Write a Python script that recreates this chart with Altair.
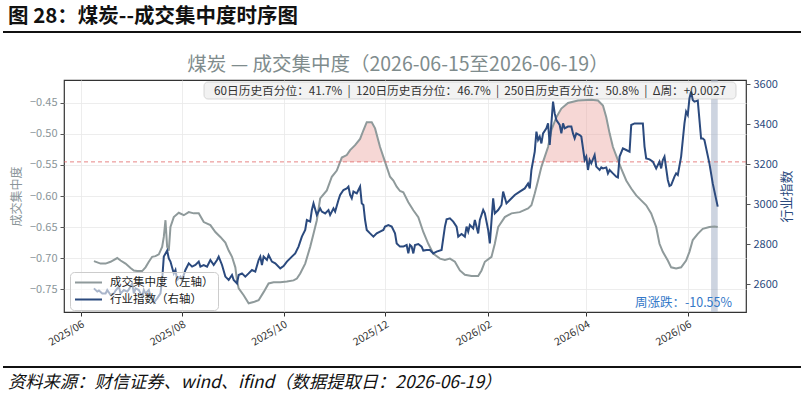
import altair as alt
import pandas as pd

# ---------------- data ----------------
conc_dates = [
    "2025-06-09", "2025-06-13", "2025-06-16", "2025-06-19", "2025-06-23", "2025-06-25", "2025-06-28",
    "2025-07-01", "2025-07-03", "2025-07-05", "2025-07-08", "2025-07-10", "2025-07-12", "2025-07-14",
    "2025-07-16", "2025-07-18", "2025-07-20", "2025-07-21", "2025-07-22", "2025-07-23", "2025-07-24",
    "2025-07-25", "2025-07-27", "2025-07-30", "2025-08-02", "2025-08-05", "2025-08-08", "2025-08-11",
    "2025-08-14", "2025-08-18", "2025-08-21", "2025-08-24", "2025-08-27", "2025-08-29", "2025-08-31",
    "2025-09-02", "2025-09-03", "2025-09-04", "2025-09-07", "2025-09-10", "2025-09-13", "2025-09-16",
    "2025-09-19", "2025-09-22", "2025-09-25", "2025-09-29", "2025-10-03", "2025-10-07", "2025-10-09",
    "2025-10-11", "2025-10-14", "2025-10-17", "2025-10-19", "2025-10-21", "2025-10-23", "2025-10-27",
    "2025-10-30", "2025-11-02", "2025-11-04", "2025-11-05", "2025-11-08", "2025-11-10", "2025-11-13",
    "2025-11-16", "2025-11-18", "2025-11-20", "2025-11-23", "2025-11-25", "2025-11-28", "2025-11-30",
    "2025-12-02", "2025-12-04", "2025-12-06", "2025-12-08", "2025-12-10", "2025-12-12", "2025-12-15",
    "2025-12-18", "2025-12-21", "2025-12-24", "2025-12-27", "2025-12-30", "2026-01-03", "2026-01-06",
    "2026-01-09", "2026-01-12", "2026-01-15", "2026-01-18", "2026-01-22", "2026-01-26", "2026-01-28",
    "2026-01-30", "2026-02-03", "2026-02-05", "2026-02-07", "2026-02-11", "2026-02-15", "2026-02-20",
    "2026-02-25", "2026-02-27", "2026-03-01", "2026-03-03", "2026-03-05", "2026-03-07", "2026-03-09",
    "2026-03-11", "2026-03-14", "2026-03-17", "2026-03-21", "2026-03-27", "2026-04-04", "2026-04-08",
    "2026-04-11", "2026-04-13", "2026-04-15", "2026-04-17", "2026-04-20", "2026-04-22", "2026-04-25",
    "2026-04-28", "2026-05-01", "2026-05-04", "2026-05-07", "2026-05-10", "2026-05-13", "2026-05-15",
    "2026-05-17", "2026-05-20", "2026-05-22", "2026-05-25", "2026-05-28", "2026-05-31", "2026-06-02",
    "2026-06-04", "2026-06-07", "2026-06-10", "2026-06-14", "2026-06-17", "2026-06-19",
]
conc_vals = [
    -0.705, -0.709, -0.709, -0.706, -0.700, -0.704, -0.709,
    -0.716, -0.720, -0.721, -0.721, -0.715, -0.706, -0.698,
    -0.697, -0.694, -0.682, -0.666, -0.639, -0.682, -0.688,
    -0.650, -0.634, -0.627, -0.631, -0.626, -0.628, -0.628,
    -0.642, -0.647, -0.658, -0.666, -0.675, -0.688, -0.698,
    -0.715, -0.736, -0.749, -0.760, -0.773, -0.771, -0.768,
    -0.755, -0.741, -0.739, -0.739, -0.738, -0.736, -0.733,
    -0.725, -0.709, -0.682, -0.661, -0.639, -0.604, -0.591,
    -0.569, -0.559, -0.545, -0.538, -0.534, -0.526, -0.518,
    -0.508, -0.494, -0.481, -0.481, -0.491, -0.521, -0.537,
    -0.553, -0.569, -0.575, -0.585, -0.592, -0.594, -0.610,
    -0.623, -0.634, -0.658, -0.677, -0.693, -0.701, -0.703,
    -0.701, -0.706, -0.720, -0.727, -0.729, -0.729, -0.720,
    -0.706, -0.698, -0.677, -0.650, -0.634, -0.628, -0.626,
    -0.620, -0.615, -0.596, -0.575, -0.553, -0.537, -0.521,
    -0.494, -0.473, -0.459, -0.450, -0.446, -0.445, -0.446,
    -0.454, -0.473, -0.499, -0.521, -0.542, -0.556, -0.575,
    -0.588, -0.599, -0.607, -0.615, -0.628, -0.650, -0.677,
    -0.690, -0.704, -0.715, -0.717, -0.715, -0.704, -0.690,
    -0.671, -0.661, -0.653, -0.650, -0.649, -0.650,
]

idx_dates = [
    "2025-06-09", "2025-06-11", "2025-06-12", "2025-06-14", "2025-06-16", "2025-06-17", "2025-06-19",
    "2025-06-21", "2025-06-22", "2025-06-24", "2025-06-25", "2025-06-27", "2025-06-29", "2025-06-30",
    "2025-07-02", "2025-07-03", "2025-07-04", "2025-07-06", "2025-07-08", "2025-07-09", "2025-07-10",
    "2025-07-12", "2025-07-13", "2025-07-15", "2025-07-17", "2025-07-19", "2025-07-20", "2025-07-21",
    "2025-07-23", "2025-07-24", "2025-07-25", "2025-07-27", "2025-07-28", "2025-07-29", "2025-07-31",
    "2025-08-01", "2025-08-03", "2025-08-05", "2025-08-07", "2025-08-09", "2025-08-11", "2025-08-12",
    "2025-08-14", "2025-08-16", "2025-08-18", "2025-08-20", "2025-08-22", "2025-08-23", "2025-08-25",
    "2025-08-27", "2025-08-29", "2025-08-31", "2025-09-01", "2025-09-03", "2025-09-04", "2025-09-06",
    "2025-09-08", "2025-09-10", "2025-09-12", "2025-09-14", "2025-09-16", "2025-09-17", "2025-09-18",
    "2025-09-19", "2025-09-21", "2025-09-22", "2025-09-24", "2025-09-26", "2025-09-29", "2025-10-01",
    "2025-10-03", "2025-10-06", "2025-10-08", "2025-10-10", "2025-10-12", "2025-10-14", "2025-10-15",
    "2025-10-17", "2025-10-18", "2025-10-19", "2025-10-21", "2025-10-23", "2025-10-24", "2025-10-26",
    "2025-10-28", "2025-10-29", "2025-10-31", "2025-11-01", "2025-11-03", "2025-11-04", "2025-11-06",
    "2025-11-08", "2025-11-09", "2025-11-10", "2025-11-11", "2025-11-12", "2025-11-14", "2025-11-15",
    "2025-11-16", "2025-11-17", "2025-11-18", "2025-11-19", "2025-11-20", "2025-11-22", "2025-11-24",
    "2025-11-26", "2025-11-28", "2025-11-30", "2025-12-01", "2025-12-03", "2025-12-05", "2025-12-07",
    "2025-12-08", "2025-12-10", "2025-12-12", "2025-12-14", "2025-12-15", "2025-12-16", "2025-12-17",
    "2025-12-18", "2025-12-19", "2025-12-21", "2025-12-23", "2025-12-24", "2025-12-26", "2025-12-28",
    "2025-12-30", "2026-01-01", "2026-01-04", "2026-01-06", "2026-01-07", "2026-01-09", "2026-01-11",
    "2026-01-13", "2026-01-14", "2026-01-16", "2026-01-18", "2026-01-19", "2026-01-20", "2026-01-21",
    "2026-01-23", "2026-01-24", "2026-01-26", "2026-01-27", "2026-01-29", "2026-01-30", "2026-02-01",
    "2026-02-02", "2026-02-04", "2026-02-05", "2026-02-07", "2026-02-09", "2026-02-10", "2026-02-12",
    "2026-02-14", "2026-02-17", "2026-02-20", "2026-02-23", "2026-02-25", "2026-02-26", "2026-02-27",
    "2026-03-01", "2026-03-02", "2026-03-03", "2026-03-04", "2026-03-05", "2026-03-06", "2026-03-08",
    "2026-03-09", "2026-03-10", "2026-03-11", "2026-03-12", "2026-03-13", "2026-03-14", "2026-03-16",
    "2026-03-17", "2026-03-18", "2026-03-19", "2026-03-21", "2026-03-23", "2026-03-24", "2026-03-25",
    "2026-03-26", "2026-03-28", "2026-03-29", "2026-03-31", "2026-04-01", "2026-04-02", "2026-04-03",
    "2026-04-04", "2026-04-06", "2026-04-07", "2026-04-09", "2026-04-10", "2026-04-11", "2026-04-13",
    "2026-04-14", "2026-04-15", "2026-04-17", "2026-04-19", "2026-04-20", "2026-04-21", "2026-04-23",
    "2026-04-25", "2026-04-27", "2026-04-28", "2026-04-30", "2026-05-03", "2026-05-05", "2026-05-06",
    "2026-05-07", "2026-05-09", "2026-05-11", "2026-05-13", "2026-05-15", "2026-05-16", "2026-05-17",
    "2026-05-18", "2026-05-20", "2026-05-21", "2026-05-22", "2026-05-24", "2026-05-25", "2026-05-26",
    "2026-05-28", "2026-05-30", "2026-05-31", "2026-06-01", "2026-06-02", "2026-06-03", "2026-06-04",
    "2026-06-05", "2026-06-07", "2026-06-09", "2026-06-10", "2026-06-11", "2026-06-14", "2026-06-16",
    "2026-06-19",
]
idx_vals = [
    2578, 2562, 2567, 2553, 2553, 2570, 2545,
    2553, 2567, 2587, 2553, 2570, 2562, 2573,
    2603, 2553, 2578, 2570, 2537, 2570, 2553,
    2570, 2537, 2507, 2528, 2553, 2620, 2737,
    2767, 2728, 2712, 2653, 2670, 2620, 2637,
    2620, 2670, 2703, 2687, 2695, 2712, 2687,
    2695, 2687, 2720, 2695, 2720, 2737, 2695,
    2637, 2620, 2645, 2620, 2603, 2645, 2653,
    2637, 2653, 2670, 2662, 2720, 2737, 2695,
    2737, 2720, 2745, 2712, 2703, 2678, 2690,
    2712, 2737, 2753, 2787, 2837, 2870, 2920,
    2912, 2970, 3003, 2945, 2978, 2962, 2953,
    2970, 2945, 2978, 2962, 3020, 3045, 3070,
    3078, 3087, 3045, 3028, 3062, 3053, 3070,
    3087, 3003, 2995, 2920, 2870, 2853, 2837,
    2853, 2862, 2870, 2887, 2895, 2887, 2853,
    2803, 2787, 2787, 2795, 2753, 2795, 2787,
    2753, 2795, 2800, 2787, 2767, 2770, 2770,
    2753, 2762, 2770, 2887, 2923, 2928, 2912,
    2887, 2837, 2850, 2837, 2887, 2862, 2895,
    2878, 2920, 2853, 2920, 2970, 2953, 2870,
    2803, 3028, 2953, 2970, 2995, 3062, 3003,
    3020, 3045, 3062, 3078, 3103, 3078, 3170,
    3262, 3362, 3320, 3337, 3303, 3353, 3378,
    3403, 3295, 3403, 3512, 3453, 3420, 3395,
    3353, 3403, 3378, 3387, 3387, 3353, 3328,
    3353, 3345, 3337, 3220, 3237, 3170, 3220,
    3203, 3245, 3187, 3170, 3183, 3178, 3183,
    3153, 3170, 3153, 3137, 3133, 3237, 3278,
    3270, 3262, 3395, 3403, 3403, 3403, 3287,
    3228, 3223, 3212, 3178, 3212, 3178, 3220,
    3237, 3120, 3090, 3095, 3137, 3153, 3145,
    3237, 3403, 3462, 3445, 3528, 3562, 3520,
    3512, 3517, 3328, 3328, 3320, 3203, 3103,
    2987,
]

series_names = ["成交集中度（左轴）", "行业指数（右轴）"]
threshold = -0.545
week_band = ["2026-06-15", "2026-06-19"]
x_tick_months = [(2025, 6), (2025, 8), (2025, 10), (2025, 12), (2026, 2), (2026, 4), (2026, 6)]
left_ticks = [-0.75, -0.70, -0.65, -0.60, -0.55, -0.50, -0.45]
right_ticks = [2600, 2800, 3000, 3200, 3400, 3600]

SEP = "\u00a0\u00a0|\u00a0\u00a0"
header_text = "图 28：煤炭--成交集中度时序图"
title_text = "煤炭 — 成交集中度（2026-06-15至2026-06-19）"
stats_text = ("60日历史百分位：41.7%" + SEP + "120日历史百分位：46.7%" + SEP
              + "250日历史百分位：50.8%" + SEP + "Δ周：+0.0027")
weekly_text = "周涨跌：-10.55%"
source_text = "资料来源：财信证券、wind、ifind（数据提取日：2026-06-19）"

# ---------------- styling ----------------
FONT = "Noto Sans CJK SC"
GREY_LINE = "#8f9a9b"
NAVY = "#2b4a7e"
GREY_TXT = "#8a9599"
TITLE_GREY = "#7f8c8d"
PINK = "#eaa6a1"

W, H = 682, 232

conc_df = pd.DataFrame({"date": conc_dates, "value": conc_vals})
conc_df["series"] = series_names[0]
conc_df["thr"] = threshold
idx_df = pd.DataFrame({"date": idx_dates, "value": idx_vals})
idx_df["series"] = series_names[1]

x_scale = alt.Scale(
    type="utc",
    domain=[alt.DateTime(year=2025, month=5, date=22, utc=True),
            alt.DateTime(year=2026, month=7, date=6, utc=True)],
)
x_axis = alt.Axis(
    values=[alt.DateTime(year=y, month=m, date=1, utc=True) for y, m in x_tick_months],
    format="%Y/%m", labelAngle=-30, labelAlign="right", labelBaseline="top",
    labelFontSize=10.5, labelColor="#333333", labelFont=FONT, labelPadding=3,
    grid=True, gridColor="#e9e9e9", gridWidth=0.8, domain=False,
    ticks=True, tickSize=4, tickColor="#333333", title=None,
)


def xenc(field="date"):
    return alt.X(f"{field}:T", scale=x_scale, axis=x_axis, title=None)


left_scale = alt.Scale(domain=[-0.787, -0.413], nice=False, zero=False)
left_axis = alt.Axis(
    orient="left", title="成交集中度", values=left_ticks, format=".2f",
    labelFontSize=11, labelColor=GREY_TXT, labelFont=FONT, labelPadding=3,
    titleColor=GREY_TXT, titleFont=FONT, titleFontSize=12, titleFontWeight="normal", titlePadding=6,
    grid=True, gridColor="#e9e9e9", gridWidth=0.8, domain=False,
    ticks=True, tickSize=4, tickColor="#555555",
)
right_scale = alt.Scale(domain=[2460, 3620], nice=False, zero=False)
right_axis = alt.Axis(
    orient="right", title="行业指数", values=right_ticks, format="d",
    labelFontSize=11, labelColor=NAVY, labelFont=FONT, labelPadding=3,
    titleColor=NAVY, titleFont=FONT, titleFontSize=13, titleFontWeight="normal",
    titleAngle=270, titleBaseline="top", titlePadding=3,
    grid=False, domain=False, ticks=True, tickSize=4, tickColor="#555555",
)

color = alt.Color(
    "series:N",
    scale=alt.Scale(domain=series_names, range=[GREY_LINE, NAVY]),
    legend=alt.Legend(
        title=None, orient="none", legendX=6, legendY=192,
        symbolType="stroke", symbolSize=729, symbolStrokeWidth=2,
        labelFontSize=11.5, labelFont=FONT, labelColor="#222222", labelOffset=7,
        padding=4, rowPadding=4, clipHeight=13,
        fillColor="rgba(255,255,255,0.6)", strokeColor="#cccccc", cornerRadius=4,
    ),
)

# week band
band = alt.Chart(pd.DataFrame({"start": [week_band[0]], "end": [week_band[1]]})).mark_rect(
    color="#a4b1c7", opacity=0.55
).encode(x=xenc("start"), x2="end:T")

# annotation box (stats)
one = pd.DataFrame({"t": [stats_text]})
box = alt.Chart(one).mark_rect(
    fill="#f1f1f1", stroke="#c9c9c9", strokeWidth=0.8, cornerRadius=4, opacity=0.9
).encode(x=alt.value(140), x2=alt.value(672), y=alt.value(2), y2=alt.value(19))

fill = alt.Chart(conc_df).transform_calculate(
    upper="max(datum.value, datum.thr)"
).mark_area(color=PINK, opacity=0.45).encode(
    x=xenc(), y=alt.Y("upper:Q", scale=left_scale, axis=left_axis), y2="thr:Q"
)
grey_line = alt.Chart(conc_df).mark_line(strokeWidth=2).encode(
    x=xenc(), y=alt.Y("value:Q", scale=left_scale, axis=left_axis), color=color
)
thr_rule = alt.Chart(pd.DataFrame({"thr": [threshold]})).mark_rule(
    color="#e06666", strokeDash=[4, 3], strokeWidth=0.8
).encode(y=alt.Y("thr:Q", scale=left_scale, axis=left_axis))

left_group = alt.layer(fill, grey_line, thr_rule)

navy_line = alt.Chart(idx_df).mark_line(strokeWidth=2).encode(
    x=xenc(), y=alt.Y("value:Q", scale=right_scale, axis=right_axis), color=color
)


def text_layer(txt, x, y, **kw):
    return alt.Chart(pd.DataFrame({"t": [txt]})).mark_text(font=FONT, **kw).encode(
        x=alt.value(x), y=alt.value(y), text="t:N"
    )


stats = text_layer(stats_text, 406, 11, fontSize=11.7, color="#333333", align="center", baseline="middle")
weekly = text_layer(weekly_text, 668, 223, fontSize=12.5, color="#3478c8", align="right", baseline="middle")
title = text_layer(title_text, 334, -15, fontSize=19.5, color=TITLE_GREY, align="center", baseline="middle")
header = text_layer(header_text, -56, -63, fontSize=20.5, fontWeight="bold", color="#111111",
                    align="left", baseline="middle")
source = text_layer(source_text, -56, 303, fontSize=17.3, fontStyle="italic", color="#111111",
                    align="left", baseline="middle")

rule_df = pd.DataFrame({"k": [0]})
top_rule = alt.Chart(rule_df).mark_rule(color="#111111", strokeWidth=2).encode(
    x=alt.value(-61), x2=alt.value(737), y=alt.value(-48)
)
bottom_rule = alt.Chart(rule_df).mark_rule(color="#111111", strokeWidth=2).encode(
    x=alt.value(-61), x2=alt.value(737), y=alt.value(287)
)

chart = alt.layer(
    band, box, left_group, navy_line, stats, weekly, title, header, source, top_rule, bottom_rule
).resolve_scale(y="independent").properties(
    width=W, height=H,
    autosize=alt.AutoSizeParams(type="none"),
    padding={"left": 64, "top": 80, "right": 58, "bottom": 89},
    background="white",
).configure_view(stroke="#333333", strokeWidth=1.2)

chart.save("out.html", embed_options={"renderer": "svg", "actions": False})
